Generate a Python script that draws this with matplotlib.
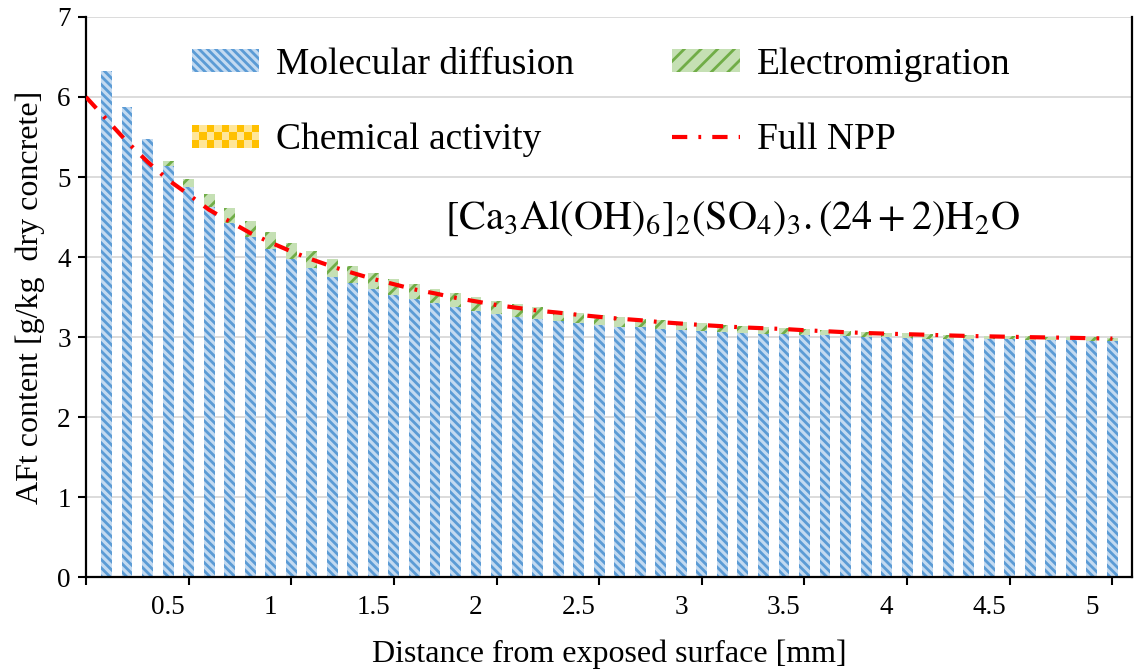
import numpy as np
import matplotlib
matplotlib.use("Agg")
import matplotlib.pyplot as plt
from matplotlib.legend_handler import HandlerBase
from matplotlib.patches import Rectangle

plt.rcParams['font.family'] = ['Liberation Serif', 'DejaVu Serif']
plt.rcParams['mathtext.fontset'] = 'stix'
plt.rcParams['hatch.linewidth'] = 2.0
plt.rcParams['lines.scale_dashes'] = False

# distance from the exposed surface [mm], one bar every 0.1 mm
distance = np.round(np.arange(1, 51) * 0.1, 1)

# AFt content contributions [g/kg dry concrete]
molecular = [6.32, 5.87, 5.47, 5.14, 4.87, 4.63, 4.42, 4.25, 4.10, 3.97,
             3.86, 3.75, 3.67, 3.595, 3.525, 3.47, 3.42, 3.37, 3.33, 3.29,
             3.25, 3.225, 3.20, 3.175, 3.155, 3.13, 3.12, 3.10, 3.09, 3.075,
             3.06, 3.05, 3.04, 3.04, 3.025, 3.02, 3.01, 3.00, 2.995, 2.99,
             2.98, 2.98, 2.975, 2.97, 2.97, 2.965, 2.96, 2.96, 2.955, 2.95]
electro = [-0.03, -0.03, -0.03, 0.06, 0.11, 0.16, 0.19, 0.20, 0.21, 0.21,
           0.215, 0.225, 0.22, 0.205, 0.195, 0.19, 0.18, 0.18, 0.17, 0.16,
           0.16, 0.145, 0.13, 0.125, 0.125, 0.12, 0.11, 0.11, 0.10, 0.095,
           0.095, 0.09, 0.09, 0.07, 0.075, 0.07, 0.065, 0.06, 0.06, 0.055,
           0.06, 0.05, 0.045, 0.045, 0.04, 0.045, 0.045, 0.04, 0.045, 0.04]
chemical = [0.0, 0.0, 0.0, -0.02, -0.02, -0.02, -0.02, -0.02, -0.02, -0.02,
            -0.02, -0.02, -0.02, -0.02, -0.02, -0.02, -0.02, -0.02, 0.0, 0.0,
            0.0, 0.0, 0.0, 0.0, 0.0, 0.0, 0.0, 0.0, 0.0, 0.0,
            0.0, 0.0, 0.0, 0.0, 0.0, 0.0, 0.0, 0.0, 0.0, 0.0,
            0.0, 0.0, 0.0, 0.0, 0.0, 0.0, 0.0, 0.0, 0.0, 0.0]

# full Nernst-Planck-Poisson solution
npp_x = np.concatenate([[0.0], distance])
npp = [6.00, 5.72, 5.44, 5.19, 4.965, 4.78, 4.59, 4.445, 4.30, 4.18, 4.07,
       3.97, 3.88, 3.80, 3.725, 3.66, 3.595, 3.545, 3.49, 3.445, 3.40,
       3.365, 3.33, 3.305, 3.277, 3.252, 3.229, 3.21, 3.186, 3.168, 3.15,
       3.135, 3.12, 3.11, 3.10, 3.085, 3.073, 3.06, 3.05, 3.042, 3.035,
       3.028, 3.02, 3.013, 3.008, 3.003, 2.998, 2.994, 2.99, 2.985, 2.98]

xticks = [0.5, 1.0, 1.5, 2.0, 2.5, 3.0, 3.5, 4.0, 4.5, 5.0]
xtick_labels = ['0.5', '1', '1.5', '2', '2.5', '3', '3.5', '4', '4.5', '5']

blue_face, blue_line = '#C3DAF1', '#5B9BD5'
green_face, green_line = '#C5E0B4', '#70AD47'
gold_dark, gold_light = '#FFC000', '#FFE699'


class CheckerHandler(HandlerBase):
    """Legend key drawn as a small checkerboard."""
    def create_artists(self, legend, orig_handle, xdescent, ydescent,
                       width, height, fontsize, trans):
        nx, ny = 9, 3
        cw, ch = width / nx, height / ny
        arts = [Rectangle((-xdescent, -ydescent), width, height,
                          facecolor=gold_light, edgecolor='none', transform=trans)]
        for i in range(nx):
            for j in range(ny):
                if (i + j) % 2 == 0:
                    arts.append(Rectangle((-xdescent + i * cw, -ydescent + j * ch), cw, ch,
                                          facecolor=gold_dark, edgecolor='none',
                                          transform=trans))
        return arts


fig = plt.figure(figsize=(11.34, 6.71), dpi=100)
ax = fig.add_axes([0.0758, 0.140, 0.922, 0.8347])

md = np.array(molecular)
em = np.array(electro)
ca = np.array(chemical)
w = 0.053

ax.grid(axis='y', color='#D9D9D9', linewidth=1.3, zorder=0)
ax.set_axisbelow(True)

b_md = ax.bar(distance, md, width=w, color=blue_face, edgecolor=blue_line,
              hatch='\\\\\\\\', linewidth=0, zorder=2)
b_em = ax.bar(distance, em, width=w, bottom=np.where(em >= 0, md, 0),
              color=green_face, edgecolor=green_line, hatch='//', linewidth=0, zorder=2)
ax.bar(distance, ca, width=w, bottom=np.minimum(em, 0),
       color=gold_dark, linewidth=0, zorder=2)

line, = ax.plot(npp_x, npp, color='#FF0000', linewidth=3.0, zorder=3,
                dashes=(11, 8, 2, 8), solid_capstyle='butt')

ax.set_xlim(0, 5.093)
ax.set_ylim(0, 7)
ax.set_yticks(range(0, 8))

# tick marks at the round distances, labels sitting one bar to the left
ax.set_xticks([0.0] + xticks)
ax.set_xticklabels([''] * (len(xticks) + 1))
ax.set_xticks([t - 0.1 for t in xticks], minor=True)
ax.set_xticklabels(xtick_labels, minor=True)
ax.tick_params(axis='x', which='major', direction='out', length=6, width=1.5)
ax.tick_params(axis='x', which='minor', length=0, pad=13, labelsize=19.5)
ax.tick_params(axis='y', direction='out', length=6, width=1.5, pad=5, labelsize=19.5)

for s in ['left', 'bottom', 'right']:
    ax.spines[s].set_linewidth(1.6)
    ax.spines[s].set_color('black')
ax.spines['top'].set_visible(False)

ax.set_xlabel('Distance from exposed surface [mm]', fontsize=23)
ax.xaxis.set_label_coords(0.501, -0.112)
ax.set_ylabel('AFt content [g/kg  dry concrete]', fontsize=23)
ax.yaxis.set_label_coords(-0.039, 0.5)

ax.text(0.343, 0.641,
        r'$[\mathrm{Ca}_3\mathrm{Al(OH)}_6]_2\mathrm{(SO}_4)_3.\left(24+2\right)\mathrm{H}_2\mathrm{O}$',
        transform=ax.transAxes, fontsize=29, ha='left', va='center')

chem_key = Rectangle((0, 0), 1, 1)
leg = ax.legend([b_md, chem_key, b_em, line],
                ['Molecular diffusion', 'Chemical activity', 'Electromigration', 'Full NPP'],
                handler_map={chem_key: CheckerHandler()},
                ncol=2, loc='upper left', bbox_to_anchor=(0.101, 0.946),
                frameon=False, fontsize=27, handlelength=1.81, handleheight=0.55,
                handletextpad=0.45, columnspacing=2.6, labelspacing=1.1,
                borderpad=0, borderaxespad=0)

fig.savefig('out.png', dpi=100)
